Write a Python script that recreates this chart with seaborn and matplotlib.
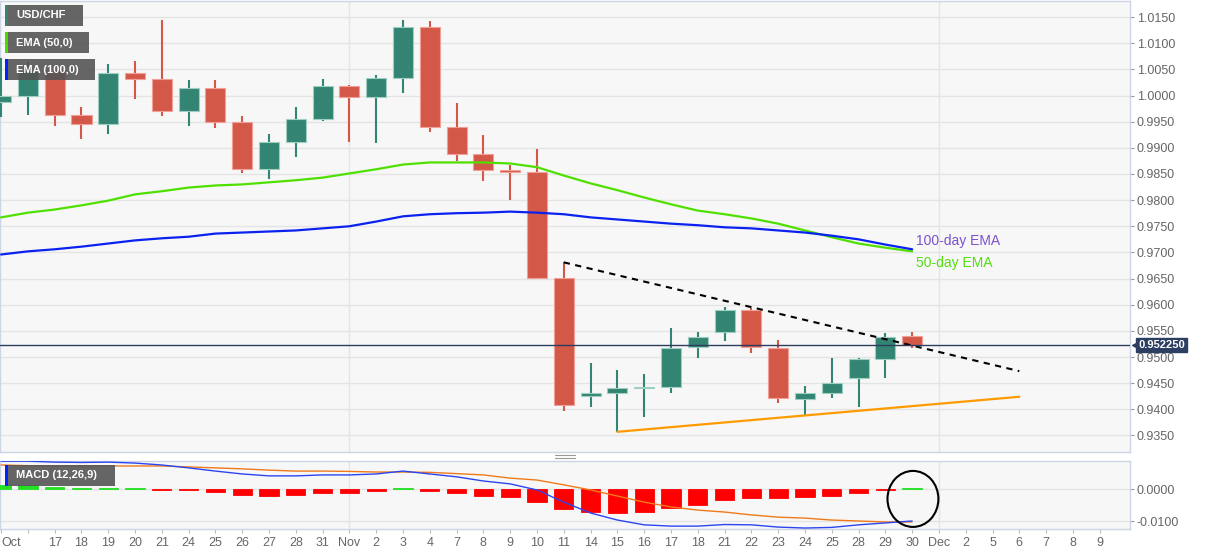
import matplotlib
matplotlib.use("Agg")
import matplotlib.pyplot as plt
import seaborn as sns
import numpy as np
import pandas as pd
from matplotlib.patches import Rectangle, Ellipse
from matplotlib.lines import Line2D

# ---- data ----
oct_days = [13, 14, 17, 18, 19, 20, 21, 24, 25, 26, 27, 28, 31]
nov_days = [1, 2, 3, 4, 7, 8, 9, 10, 11, 14, 15, 16, 17, 18, 21, 22, 23, 24, 25, 28, 29, 30]
dec_days = [1, 2, 5, 6, 7, 8, 9]
axis_days = ([f"Oct {d}" for d in oct_days] + [f"Nov {d}" for d in nov_days]
             + [f"Dec {d}" for d in dec_days])
axis_labels = (["Oct", ""] + [str(d) for d in oct_days[2:]] + ["Nov"] + [str(d) for d in nov_days[1:]]
               + ["Dec"] + [str(d) for d in dec_days[1:]])

days = axis_days[:35]
opens = [0.9987, 0.9999, 1.0048, 0.9962, 0.9945, 1.0043, 1.0031, 0.9970, 1.0014, 0.9949,
         0.9859, 0.9912, 0.9955, 1.0018, 0.9997, 1.0033, 1.0131, 0.9939, 0.9888, 0.9857,
         0.9853, 0.9652, 0.9426, 0.9432, 0.9441, 0.9443, 0.9520, 0.9547, 0.9589, 0.9518,
         0.9420, 0.9432, 0.9460, 0.9497, 0.9541]
highs = [1.0071, 1.0064, 1.0058, 0.9978, 1.0060, 1.0066, 1.0144, 1.0029, 1.0029, 0.9960,
         0.9926, 0.9978, 1.0031, 1.0020, 1.0039, 1.0144, 1.0142, 0.9985, 0.9924, 0.9868,
         0.9897, 0.9681, 0.9489, 0.9476, 0.9468, 0.9556, 0.9547, 0.9596, 0.9593, 0.9533,
         0.9445, 0.9499, 0.9499, 0.9545, 0.9547]
lows = [0.9958, 0.9962, 0.9941, 0.9916, 0.9926, 0.9993, 0.9960, 0.9941, 0.9937, 0.9851,
        0.9840, 0.9882, 0.9951, 0.9912, 0.9909, 1.0004, 0.9930, 0.9874, 0.9836, 0.9801,
        0.9650, 0.9397, 0.9405, 0.9357, 0.9386, 0.9432, 0.9499, 0.9531, 0.9508, 0.9412,
        0.9389, 0.9422, 0.9405, 0.9460, 0.9518]
closes = [0.9999, 1.0047, 0.9962, 0.9945, 1.0043, 1.0031, 0.9970, 1.0014, 0.9949, 0.9859,
          0.9912, 0.9955, 1.0018, 0.9997, 1.0033, 1.0131, 0.9939, 0.9888, 0.9857, 0.9853,
          0.9652, 0.9409, 0.9432, 0.9441, 0.9443, 0.9518, 0.9539, 0.9589, 0.9520, 0.9422,
          0.9432, 0.9451, 0.9497, 0.9539, 0.95225]

ema50 = [0.9767, 0.9776, 0.9782, 0.9790, 0.9799, 0.9811, 0.9817, 0.9824, 0.9828, 0.9830,
         0.9834, 0.9838, 0.9843, 0.9851, 0.9859, 0.9868, 0.9872, 0.9872, 0.9872, 0.9870,
         0.9863, 0.9847, 0.9832, 0.9819, 0.9805, 0.9792, 0.9780, 0.9773, 0.9765, 0.9755,
         0.9742, 0.9729, 0.9717, 0.9709, 0.9702]
ema100 = [0.9696, 0.9702, 0.9706, 0.9711, 0.9717, 0.9723, 0.9727, 0.9730, 0.9736, 0.9738,
          0.9740, 0.9742, 0.9746, 0.9750, 0.9759, 0.9769, 0.9773, 0.9775, 0.9776, 0.9778,
          0.9776, 0.9773, 0.9767, 0.9763, 0.9759, 0.9755, 0.9752, 0.9748, 0.9746, 0.9742,
          0.9738, 0.9732, 0.9725, 0.9715, 0.9706]

macd = [0.0087, 0.0087, 0.0084, 0.0083, 0.0084, 0.0081, 0.0075, 0.0066, 0.0056, 0.0047,
        0.0041, 0.0041, 0.0044, 0.0044, 0.0047, 0.0056, 0.0047, 0.0038, 0.0025, 0.0016,
        -0.0003, -0.0041, -0.0075, -0.0097, -0.0112, -0.0116, -0.0116, -0.0111, -0.0112, -0.0119,
        -0.0122, -0.0120, -0.0112, -0.0106, -0.0100]
signal = [0.0075, 0.0073, 0.0072, 0.0072, 0.0072, 0.0072, 0.0072, 0.0069, 0.0066, 0.0063,
          0.0059, 0.0056, 0.0056, 0.0055, 0.0053, 0.0053, 0.0052, 0.0048, 0.0044, 0.0034,
          0.0028, 0.0013, -0.0003, -0.0022, -0.0041, -0.0056, -0.0066, -0.0072, -0.0081, -0.0088,
          -0.0091, -0.0097, -0.0100, -0.0103, -0.0103]
hist = [0.00125, 0.00125, 0.0007, 0.0002, 0.0003, 0.0002, -0.0002, -0.0003, -0.0008, -0.0018,
        -0.0021, -0.0018, -0.0013, -0.0011, -0.0007, 0.0002, -0.0007, -0.0014, -0.0023, -0.0026,
        -0.0040, -0.0062, -0.0073, -0.0075, -0.0071, -0.0060, -0.0049, -0.0034, -0.0029, -0.0029,
        -0.0026, -0.0021, -0.0013, -0.0002, 0.0003]

resistance_days = ["Nov 11", "Dec 6"]
resistance_vals = [0.9681, 0.9473]
support_days = ["Nov 15", "Dec 6"]
support_vals = [0.9357, 0.9424]
last_price = 0.95225
price_ticks = [0.935, 0.940, 0.945, 0.950, 0.955, 0.960, 0.965, 0.970, 0.975, 0.980,
               0.985, 0.990, 0.995, 1.000, 1.005, 1.010, 1.015]
macd_ticks = [-0.01, 0.0]

df = pd.DataFrame({"day": days, "open": opens, "high": highs, "low": lows, "close": closes,
                   "ema50": ema50, "ema100": ema100, "macd": macd, "signal": signal, "hist": hist})
df["x"] = [axis_days.index(d) for d in df["day"]]

# ---- style ----
sns.set_style("white", {"axes.facecolor": "#f7f7f7"})
plt.rcParams["font.family"] = ["Liberation Sans", "DejaVu Sans"]

W, H = 1207, 555
fig = plt.figure(figsize=(W / 100, H / 100), dpi=100)
ax = fig.add_axes([0, 1 - 452 / H, 1130 / W, 451 / H])
axm = fig.add_axes([0, 1 - 529 / H, 1130 / W, 68 / H], sharex=ax)

GREEN, RED = "#338472", "#d45848"
GRID = "#e4e4e4"

for a in (ax, axm):
    a.set_facecolor("#f7f7f7")
    for s in a.spines.values():
        s.set_color("#cdd4e6")
        s.set_linewidth(1)
    a.yaxis.tick_right()
    a.grid(axis="y", color=GRID, linewidth=1)
    a.set_axisbelow(True)
    for lab in ("Nov 1", "Dec 1"):
        a.axvline(axis_days.index(lab), color=GRID, linewidth=1, zorder=0)

# ---- candles ----
up = df["close"] >= df["open"]
colors = np.where(up, GREEN, RED)
edges = np.where(up, "#9fcfc3", "#f0a097")
ax.vlines(df["x"], df["low"], df["high"], colors=colors, linewidth=1.5, zorder=3)
body_lo = np.minimum(df["open"], df["close"])
body_h = np.maximum(np.abs(df["close"] - df["open"]), 0.00012)
ax.bar(df["x"], body_h, bottom=body_lo, width=0.75, color=colors, edgecolor=edges,
       linewidth=0.8, zorder=4)

sns.lineplot(x=df["x"], y=df["ema50"], ax=ax, color="#4fe000", linewidth=1.6, zorder=5)
sns.lineplot(x=df["x"], y=df["ema100"], ax=ax, color="#0a22f0", linewidth=1.6, zorder=5)

ax.plot([axis_days.index(d) for d in resistance_days], resistance_vals, color="black",
        linestyle=(0, (3, 2.6)), linewidth=1.5, zorder=6)
ax.plot([axis_days.index(d) for d in support_days], support_vals, color="#ff9a00",
        linewidth=1.6, zorder=6)

ax.axhline(last_price, color="#2c3d5e", linewidth=1, zorder=6)

last_x = df["x"].iloc[-1]
ax.text(last_x + 0.15, df["ema100"].iloc[-1] + 0.0016, "100-day EMA", color="#7b52cb",
        fontsize=10, va="center", ha="left")
ax.text(last_x + 0.15, df["ema50"].iloc[-1] - 0.0023, "50-day EMA", color="#55dd11",
        fontsize=10, va="center", ha="left")

ax.set_xlim(-0.04, 42.13)
ax.set_ylim(0.93184, 1.01807)
ax.set_yticks(price_ticks)
ax.set_yticklabels([f"{t:.4f}" for t in price_ticks])
ax.tick_params(axis="y", right=True, length=3, color="#999999", labelsize=9,
               labelcolor="#666666", pad=2)
ax.tick_params(axis="x", bottom=False, labelbottom=False)
ax.set_xlabel("")
ax.set_ylabel("")

ax.text(1.0075, last_price, f"{last_price:.6f}", transform=ax.get_yaxis_transform(),
        color="white", fontsize=8, fontweight="bold", va="center", ha="left", zorder=20,
        clip_on=False,
        bbox=dict(boxstyle="square,pad=0.2", fc="#2c3f63", ec="#2c3f63"))
ax.plot([1.0045], [last_price], marker="<", markersize=5, color="#2c3f63",
        transform=ax.get_yaxis_transform(), clip_on=False, zorder=20)

# ---- MACD panel ----
axm.bar(df["x"], df["hist"], width=0.72,
        color=np.where(df["hist"] >= 0, "#22e022", "#ff0000"),
        edgecolor=np.where(df["hist"] >= 0, "#22e022", "#ff0000"), linewidth=0.6, zorder=3)
sns.lineplot(x=df["x"], y=df["signal"], ax=axm, color="#f07a1a", linewidth=1.0, zorder=4)
sns.lineplot(x=df["x"], y=df["macd"], ax=axm, color="#2b45f0", linewidth=1.0, zorder=4)
axm.add_patch(Ellipse((last_x + 0.03, -0.0031), 1.9, 0.0175, fill=False,
                      edgecolor="black", linewidth=1.5, zorder=6))

axm.set_ylim(-0.0125, 0.00875)
axm.set_yticks(macd_ticks)
axm.set_yticklabels([f"{t:.4f}" for t in macd_ticks])
axm.tick_params(axis="y", right=True, length=3, color="#999999", labelsize=9,
                labelcolor="#666666", pad=2)
axm.set_xticks(range(len(axis_days)))
axm.set_xticklabels(axis_labels)
axm.tick_params(axis="x", bottom=True, length=3, color="#bbbbbb", labelsize=9,
                labelcolor="#666666", pad=3)
axm.get_xticklabels()[0].set_ha("left")
axm.set_xlabel("")
axm.set_ylabel("")


# ---- indicator tags ----
def tag(x0, y0, w, h, text, stripe):
    fig.add_artist(Rectangle((x0 / W, 1 - (y0 + h) / H), w / W, h / H, transform=fig.transFigure,
                             fc="#555555", alpha=0.9, ec="none", zorder=20))
    fig.add_artist(Rectangle((x0 / W, 1 - (y0 + h) / H), 2.5 / W, h / H, transform=fig.transFigure,
                             fc=stripe, ec="none", zorder=21))
    fig.text((x0 + 11) / W, 1 - (y0 + h / 2) / H, text, color="white", fontsize=8,
             fontweight="bold", va="center", ha="left", zorder=22)


tag(5, 5, 78, 21, "USD/CHF", GREEN)
tag(5, 32, 84, 21, "EMA (50,0)", "#44dd00")
tag(5, 59, 90, 21, "EMA (100,0)", "#0022ff")
tag(5, 465, 110, 21, "MACD (12,26,9)", "#0022ff")

# panel separator handle
for yy in (455, 458):
    fig.add_artist(Line2D([555 / W, 575 / W], [1 - yy / H] * 2, color="#999999", linewidth=0.8))

fig.savefig("out.png", dpi=100)
